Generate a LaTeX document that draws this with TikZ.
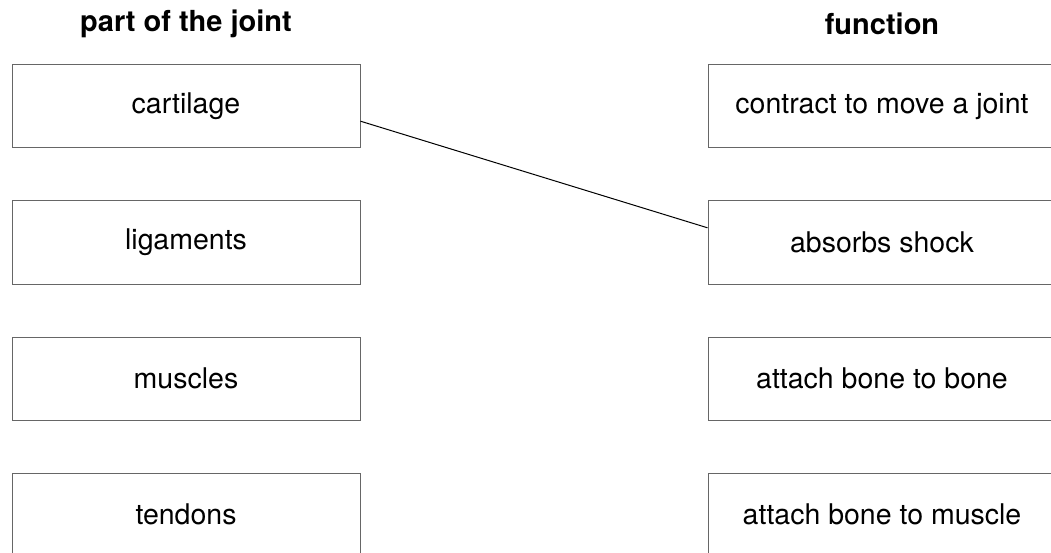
\documentclass[tikz,border=0pt]{standalone}
\usepackage{fontspec}
\setmainfont{TeX Gyre Heros}
\usetikzlibrary{calc}

\begin{document}
\begin{tikzpicture}[x=1pt,y=-1pt]
	\tikzstyle{every node}=[font=\fontsize{28.5}{34}\selectfont]
	\tikzstyle{partbox}=[draw=black!60, line width=1pt, minimum width=348pt, minimum height=83pt, inner sep=0pt]
	\tikzstyle{funcbox}=[partbox]
	\tikzstyle{heading}=[font=\fontsize{29}{34}\selectfont\bfseries]
	
	\useasboundingbox (0,0) rectangle (1051,553);
	\clip (0,0) rectangle (1051,553);
	
	\node [heading] (parthead) at (186,24) {part of the joint};
	\node [heading] (funchead) at (882,24) {function};
	
	\node [partbox] (cart) at (186,106.5) {cartilage};
	\node [partbox] (lig) at (186,242.5) {ligaments};
	\node [partbox] (musc) at (186,378.5) {muscles};
	\node [partbox] (tend) at (186,514.5) {tendons};
	
	\node [funcbox] (contract) at (882,106.5) {contract to move a joint};
	\node [funcbox] (absorb) at (882,242.5) {absorbs shock};
	\node [funcbox] (bonebone) at (882,378.5) {attach bone to bone};
	\node [funcbox] (bonemusc) at (882,514.5) {attach bone to muscle};
	
	%the one answer drawn in
	\draw [line width=1pt] ($(cart.north east)!0.675!(cart.south east)$) -- ($(absorb.north west)!0.325!(absorb.south west)$);
	
\end{tikzpicture}
\end{document}
